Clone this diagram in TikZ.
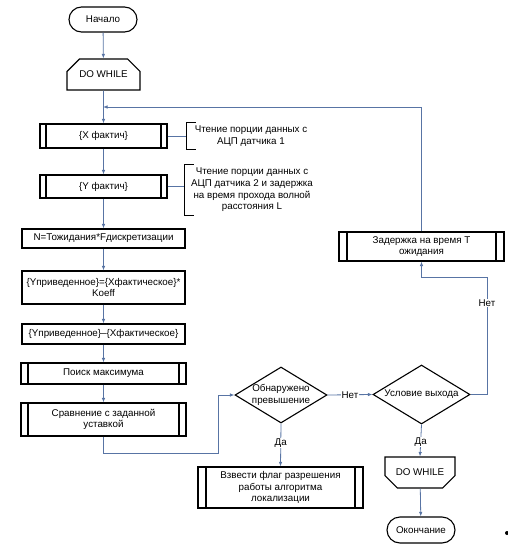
\documentclass[tikz,border=0pt]{standalone}
\usepackage{fontspec}
\setmainfont{Liberation Sans}
\usetikzlibrary{shapes.geometric,shapes.misc,arrows.meta}
\definecolor{lnc}{RGB}{88,116,164}
\tikzset{
  base/.style={draw=black,line width=1.1pt,font=\fontsize{9.8}{11.7}\selectfont,align=center,inner sep=1pt},
  proc/.style={base,rectangle},
  subproc/.style={proc,path picture={
     \draw[line width=1.1pt] ([xshift=#1]path picture bounding box.north west) -- ([xshift=#1]path picture bounding box.south west);
     \draw[line width=1.1pt] ([xshift=-#1]path picture bounding box.north east) -- ([xshift=-#1]path picture bounding box.south east);}},
  term/.style={base,rounded rectangle},
  loopbox/.style={base,chamfered rectangle,chamfered rectangle xsep=8pt,chamfered rectangle ysep=8pt},
  decis/.style={base,diamond,inner sep=0pt},
  ann/.style={font=\fontsize{9.8}{11.7}\selectfont,align=center,inner sep=0pt},
  arr/.style={draw=lnc,line width=0.8pt,-{Latex[length=4.5pt,width=3.5pt]}},
  ln/.style={draw=lnc,line width=0.8pt},
  brk/.style={draw=black,line width=1.1pt},
  lbl/.style={fill=white,inner sep=1pt,font=\fontsize{9.8}{10}\selectfont},
}
\begin{document}
\begin{tikzpicture}[x=1pt,y=-1pt]
\useasboundingbox (0,0) rectangle (508,552);
% nodes
\node[term,minimum width=70pt,minimum height=25pt] (start) at (103,19.5) {Начало};
\node[loopbox,chamfered rectangle corners={north west,north east},minimum width=73pt,minimum height=31pt] (do1) at (103.5,74.5) {DO WHILE};
\node[subproc=6pt,minimum width=127pt,minimum height=24pt] (xf) at (103.5,136) {\{X фактич\}};
\node[subproc=6pt,minimum width=127pt,minimum height=23pt] (yf) at (103.5,186.5) {\{Y фактич\}};
\node[proc,minimum width=163pt,minimum height=19pt] (nn) at (103.5,238.5) {N=Тожидания*Fдискретизации};
\node[proc,minimum width=163pt,minimum height=33pt] (kf) at (103.5,287.5) {\{Yприведенное\}=\{Xфактическое\}*\\Koeff};
\node[proc,minimum width=163pt,minimum height=20pt] (df) at (103.5,334) {\{Yприведенное\}–\{Xфактическое\}};
\node[subproc=7pt,minimum width=165pt,minimum height=21pt] (mx) at (103.5,373.5) {Поиск максимума};
\node[subproc=7pt,minimum width=165pt,minimum height=33pt] (cmp) at (103.5,419.5) {Сравнение с заданной\\уставкой};
\node[decis,minimum width=92pt,minimum height=56pt] (d1) at (281,395) {};
\node[ann] (d1t) at (281,395) {Обнаружено\\превышение};
\node[decis,minimum width=97pt,minimum height=59pt] (d2) at (421.5,394.5) {};
\node[ann] (d2t) at (421.5,394.5) {Условие выхода};
\node[subproc=8pt,minimum width=165pt,minimum height=29pt] (dl) at (421.5,246.5) {Задержка на время Т\\ожидания};
\node[subproc=8pt,minimum width=165pt,minimum height=41pt] (fl) at (280.5,487.5) {Взвести флаг разрешения\\работы алгоритма\\локализации};
\node[loopbox,chamfered rectangle corners={south west,south east},minimum width=70pt,minimum height=31pt] (do2) at (420,472.5) {DO WHILE};
\node[term,minimum width=70pt,minimum height=26pt] (fin) at (421,530) {Окончание};
\node[ann,minimum width=128pt,minimum height=26pt] (a1) at (251,136) {Чтение порции данных с\\АЦП датчика 1};
\node[ann,minimum width=134pt,minimum height=50pt] (a2) at (252,190) {Чтение порции данных с\\АЦП датчика 2 и задержка\\на время прохода волной\\расстояния L};
\fill (507,533) circle (2pt);
% coordinates
\coordinate (lj) at (103,107);
\coordinate (c1) at (218,453);
\coordinate (c2) at (487,277);
% connectors
\draw[arr] (start) -- (do1);
\draw[arr] (do1) -- (xf);
\draw[arr] (xf) -- (yf);
\draw[arr] (yf) -- (nn);
\draw[arr] (nn) -- (kf);
\draw[arr] (kf) -- (df);
\draw[arr] (df) -- (mx);
\draw[arr] (mx) -- (cmp);
\draw[arr] (dl.north) |- (lj);
\draw[arr] (cmp.south) |- (c1) |- (d1.west);
\draw[arr] (d1.east) -- node[lbl]{Нет} (d2.west);
\draw[arr] (d2.east) -| (c2) -| (dl.south);
\node[lbl] (n2) at (487,303) {Нет};
\draw[arr] (d1.south) -- node[lbl,pos=0.45]{Да} (fl.north);
\draw[arr] (d2.south) -- node[lbl,pos=0.55]{Да} (do2.north);
\draw[arr] (do2) -- (fin);
\draw[ln] (xf.east) -- (a1.west);
\draw[ln] (yf.east) -- (yf.east -| a2.west);
\draw[brk] ([xshift=9pt]a1.north west) -- (a1.north west) -- (a1.south west) -- ([xshift=9pt]a1.south west);
\draw[brk] ([xshift=9pt]a2.north west) -- (a2.north west) -- (a2.south west) -- ([xshift=9pt]a2.south west);
\end{tikzpicture}
\end{document}
